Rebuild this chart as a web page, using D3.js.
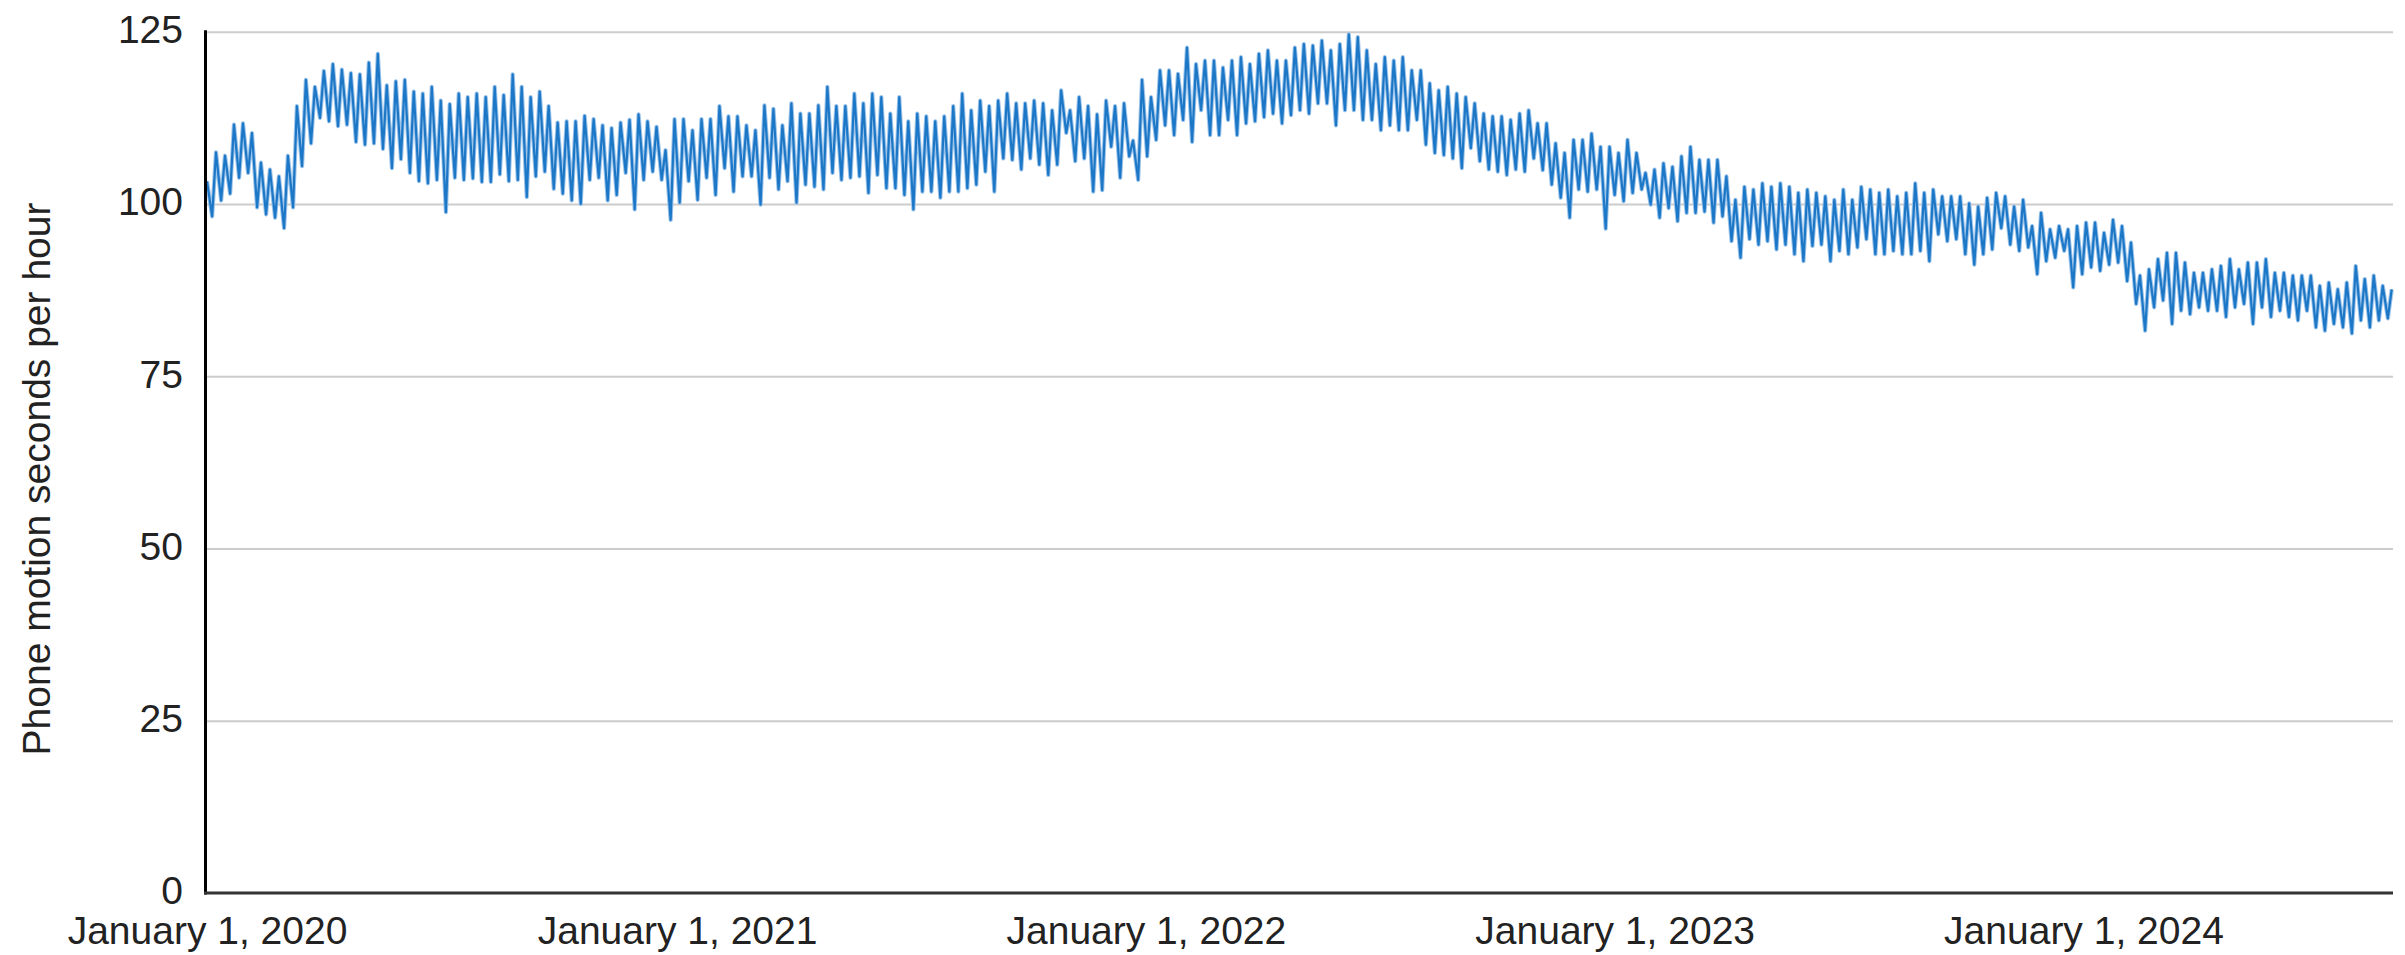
<!DOCTYPE html>
<html>
<head>
<meta charset="utf-8">
<script src="https://cdn.jsdelivr.net/npm/d3@7"></script>
<style>
  body { margin: 0; background: #fff; }
  svg text { font-family: "Liberation Sans", Arial, sans-serif; fill: #222; }
</style>
</head>
<body>
<svg id="chart" width="2405" height="955"></svg>
<script>
// Weekly readings: a weekday high and a weekend low for each week from 1 Jan 2020.
const startDate = new Date(2020, 0, 1);
const endDate = new Date(2024, 7, 29);

const weekHigh = [
  103.3, 107.5, 107.0, 111.5, 111.7, 110.3, 106.0, 105.0, 104.0, 107.0,
  114.2, 118.0, 117.0, 119.3, 120.3, 119.5, 119.0, 118.8, 120.5, 121.8,
  117.2, 117.8, 118.0, 116.3, 116.0, 117.0, 115.0, 114.5, 116.0, 115.5,
  116.0, 115.5, 117.0, 115.8, 118.8, 117.0, 115.5, 116.3, 114.2, 111.8,
  112.0, 112.0, 112.8, 112.3, 111.4, 111.0, 111.8, 112.2, 113.0, 112.0,
  111.2, 107.8, 112.3, 112.3, 110.7, 112.3, 112.3, 114.2, 112.7, 112.7,
  111.4, 110.7, 114.3, 113.8, 111.4, 114.6, 113.1, 113.1, 114.3, 117.0,
  114.2, 114.2, 116.0, 114.6, 116.0, 115.5, 113.1, 115.5, 112.0, 113.1,
  112.7, 112.0, 112.7, 114.2, 116.0, 113.6, 115.0, 114.2, 115.0, 116.0,
  114.6, 114.6, 115.0, 114.6, 113.6, 116.5, 113.6, 115.5, 114.2, 113.0,
  115.0, 114.2, 114.6, 109.2, 118.0, 115.5, 119.4, 119.4, 118.9, 122.7,
  120.3, 120.8, 120.8, 119.8, 120.8, 121.3, 120.3, 121.8, 122.3, 120.8,
  120.8, 122.7, 123.2, 123.0, 123.7, 122.3, 123.2, 124.6, 124.2, 122.3,
  120.3, 121.3, 120.8, 121.3, 119.4, 119.4, 117.5, 116.5, 117.0, 116.0,
  115.5, 114.6, 113.1, 112.7, 112.7, 112.2, 113.1, 113.6, 111.7, 111.7,
  108.8, 107.4, 109.3, 109.3, 110.2, 108.3, 108.3, 107.4, 109.3, 107.4,
  104.5, 105.0, 105.9, 105.4, 106.9, 108.3, 106.4, 106.4, 106.4, 104.0,
  100.6, 102.5, 102.1, 103.0, 102.5, 103.0, 102.5, 101.6, 102.1, 101.6,
  101.1, 100.6, 102.1, 100.6, 102.5, 102.1, 101.6, 102.1, 101.1, 101.6,
  103.0, 101.6, 102.1, 101.1, 101.1, 101.1, 100.1, 99.6, 100.9, 101.6,
  101.1, 99.6, 100.6, 96.8, 98.7, 96.3, 96.8, 96.3, 96.8, 97.3,
  97.3, 95.8, 97.7, 96.8, 94.4, 89.6, 90.5, 92.0, 92.9, 92.9,
  91.5, 90.0, 90.0, 90.5, 91.0, 92.0, 90.5, 91.5, 91.5, 92.0,
  90.0, 90.0, 89.6, 89.6, 89.6, 88.1, 88.6, 87.6, 88.6, 91.0,
  89.1, 89.6, 88.1, 87.6
];

const weekLow = [
  98.2, 100.5, 101.5, 103.8, 104.5, 99.5, 98.5, 98.0, 96.5, 99.5,
  105.5, 108.8, 112.5, 112.0, 111.3, 111.5, 109.0, 108.6, 108.8, 108.0,
  105.2, 106.5, 104.5, 103.3, 103.0, 103.5, 98.8, 103.8, 103.5, 103.7,
  103.2, 103.2, 104.3, 103.3, 103.5, 101.0, 104.0, 104.7, 102.2, 101.5,
  100.5, 100.0, 103.5, 103.8, 100.5, 101.3, 104.5, 99.2, 103.5, 104.7,
  103.5, 97.7, 100.2, 103.3, 100.6, 103.8, 101.3, 105.2, 101.8, 104.0,
  104.0, 99.9, 103.8, 102.1, 103.3, 100.2, 102.8, 102.5, 102.1, 104.5,
  103.5, 103.8, 104.0, 101.6, 104.2, 102.3, 102.3, 101.3, 99.2, 101.8,
  101.8, 100.9, 101.8, 101.8, 102.3, 102.8, 104.7, 101.8, 106.6, 106.4,
  105.0, 106.6, 105.7, 104.2, 105.7, 110.3, 106.2, 106.6, 101.8, 102.0,
  108.3, 103.8, 106.9, 103.5, 106.9, 109.3, 111.4, 110.0, 112.2, 109.0,
  113.6, 110.0, 110.0, 112.2, 110.0, 111.7, 112.0, 112.6, 113.1, 111.7,
  112.9, 113.6, 113.1, 114.6, 114.6, 111.4, 113.6, 113.6, 112.2, 112.2,
  110.7, 111.4, 110.7, 110.7, 112.2, 108.6, 107.4, 107.1, 106.6, 105.2,
  108.1, 106.2, 105.0, 104.7, 104.2, 105.0, 104.7, 106.6, 104.9, 102.8,
  100.9, 98.0, 102.1, 101.8, 102.1, 96.4, 101.3, 100.4, 101.6, 102.1,
  99.9, 98.0, 99.4, 97.5, 98.7, 98.7, 98.9, 97.3, 98.2, 94.6,
  92.2, 94.9, 94.1, 94.6, 93.4, 94.1, 92.7, 91.7, 93.9, 94.1,
  91.7, 93.2, 92.7, 93.7, 94.9, 92.7, 92.7, 93.2, 92.7, 92.7,
  93.2, 91.7, 95.6, 94.6, 94.9, 92.7, 91.2, 92.7, 93.4, 96.5,
  94.1, 93.2, 93.7, 89.8, 91.7, 92.2, 93.2, 87.9, 89.8, 90.8,
  90.3, 91.2, 91.5, 88.8, 85.5, 81.6, 85.0, 86.0, 82.6, 84.5,
  84.0, 85.0, 84.5, 84.5, 83.6, 85.0, 85.5, 82.6, 85.0, 83.6,
  84.5, 83.6, 83.1, 84.5, 82.1, 81.6, 82.6, 82.1, 81.2, 83.1,
  82.1, 83.1, 83.4
];

const yTicks = [0, 25, 50, 75, 100, 125];
const xTickYears = [2020, 2021, 2022, 2023, 2024];
const yTitle = "Phone motion seconds per hour";

// Layout
const plot = { left: 207, right: 2393, top: 31.7, bottom: 893 };
const fontSize = 39;

const svg = d3.select("#chart");

const x = d3.scaleTime().domain([startDate, endDate]).range([plot.left, plot.right]);
const y = d3.scaleLinear().domain([0, 125]).range([plot.bottom, plot.top]);

// Interleave weekday highs and weekend lows into one dated series
const series = [];
weekHigh.forEach((hi, i) => {
  series.push({ date: d3.timeDay.offset(startDate, 7 * i), value: hi });
  if (i < weekLow.length) {
    series.push({ date: d3.timeDay.offset(startDate, 7 * i + 4), value: weekLow[i] });
  }
});

// Horizontal gridlines
const grid = svg.append("g")
  .attr("transform", `translate(${plot.left},0)`)
  .call(d3.axisLeft(y).tickValues(yTicks.filter(v => v > 0)).tickSize(-(plot.right - plot.left)).tickFormat(""));
grid.select(".domain").remove();
grid.selectAll("line").attr("stroke", "#cccccc").attr("stroke-width", 2);

// Y tick labels
const yAxis = svg.append("g")
  .attr("transform", `translate(${plot.left},0)`)
  .call(d3.axisLeft(y).tickValues(yTicks).tickSize(0).tickPadding(24));
yAxis.select(".domain").remove();
yAxis.selectAll("text")
  .style("font-size", fontSize + "px")
  .attr("dy", "0.28em")
  .attr("fill", "#222");

// X tick labels
const xAxis = svg.append("g")
  .attr("transform", `translate(0,${plot.bottom})`)
  .call(d3.axisBottom(x)
    .tickValues(xTickYears.map(yr => new Date(yr, 0, 1)))
    .tickFormat(d3.timeFormat("%B %-d, %Y"))
    .tickSize(0).tickPadding(23));
xAxis.select(".domain").remove();
xAxis.selectAll("text")
  .style("font-size", fontSize + "px")
  .attr("fill", "#222");

// Data line: a soft halo under a solid stroke
const line = d3.line()
  .x(d => x(d.date))
  .y(d => y(d.value));

svg.append("path")
  .datum(series)
  .attr("fill", "none")
  .attr("stroke", "#9cc4ea")
  .attr("stroke-width", 4.2)
  .attr("stroke-linejoin", "round")
  .attr("d", line);

svg.append("path")
  .datum(series)
  .attr("fill", "none")
  .attr("stroke", "#1c77c7")
  .attr("stroke-width", 2.2)
  .attr("stroke-linejoin", "round")
  .attr("d", line);

// Axis lines
svg.append("line")
  .attr("x1", plot.left - 1.5).attr("x2", plot.left - 1.5)
  .attr("y1", plot.top - 1.5).attr("y2", plot.bottom + 1.5)
  .attr("stroke", "#000").attr("stroke-width", 3);

svg.append("line")
  .attr("x1", plot.left - 3).attr("x2", plot.right)
  .attr("y1", plot.bottom).attr("y2", plot.bottom)
  .attr("stroke", "#333").attr("stroke-width", 3);

// Y axis title
svg.append("text")
  .attr("transform", `translate(50,479) rotate(-90)`)
  .attr("text-anchor", "middle")
  .style("font-size", fontSize + "px")
  .text(yTitle);
</script>
</body>
</html>
